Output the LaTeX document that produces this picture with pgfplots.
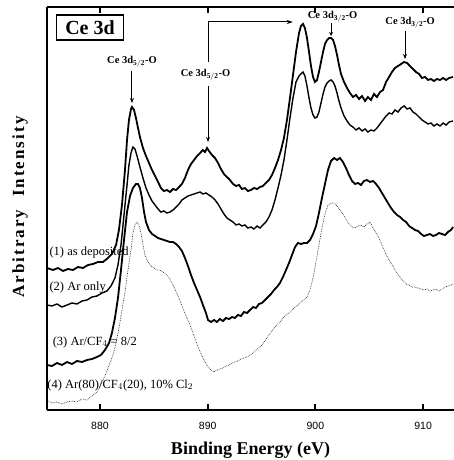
\documentclass[border=0pt]{standalone}
\usepackage{pgfplots}
\pgfplotsset{compat=1.18}
\usetikzlibrary{arrows.meta}
\usepackage{fontspec}
\setmainfont{Liberation Serif}
\newfontfamily\arialf{Liberation Sans}
\newfontfamily\spacedserif[LetterSpace=12]{Liberation Serif}

\begin{document}
\begin{tikzpicture}
\useasboundingbox (-47pt,-50pt) rectangle (407pt,410pt);
\begin{axis}[
  at={(0,0)}, anchor=south west,
  scale only axis, width=407pt, height=403pt,
  xmin=875.08, xmax=912.87, ymin=50, ymax=453,
  axis line style={line width=0.8pt},
  ytick=\empty,
  xtick={880,890,900,910}, xticklabels={880,890,900,910},
  tick align=inside, major tick length=6pt,
  xtick style={line width=2.2pt, black},
  xticklabel style={font=\arialf\fontsize{10.5}{12}\selectfont, yshift=-9pt},
  xlabel={\bfseries Binding Energy (eV)},
  xlabel style={font=\fontsize{18}{21}\selectfont, yshift=-5pt},
  clip=false,
]
% (1) as deposited
\addplot[black, line width=1.8pt] coordinates {
(875.08,192)(875.64,190)(876.10,192)(876.57,189)(877.03,191)(877.49,190)(877.96,193)(878.42,192)(878.89,195)(879.35,196)(879.81,198)(880.28,198)(880.74,202)(881.11,206)(881.49,215)(881.76,230)(882.04,255)(882.32,290)(882.51,320)(882.69,340)(882.88,351)(882.97,353)(883.16,350)(883.34,342)(883.53,332)(883.71,323)(883.99,312)(884.27,304)(884.55,297)(884.83,290)(885.11,284)(885.39,278)(885.66,272)(885.94,269)(886.22,270)(886.50,268)(886.78,271)(887.06,270)(887.34,273)(887.61,276)(887.89,282)(888.17,290)(888.45,296)(888.73,300)(889.01,304)(889.29,307)(889.56,310)(889.75,308)(889.94,312)(890.12,309)(890.40,305)(890.68,302)(890.96,297)(891.23,291)(891.51,286)(891.79,283)(892.07,280)(892.35,276)(892.63,274)(892.91,275)(893.18,271)(893.46,272)(893.74,269)(894.02,270)(894.30,272)(894.58,271)(894.86,273)(895.13,274)(895.41,277)(895.69,280)(895.97,285)(896.25,292)(896.53,300)(896.81,310)(897.08,322)(897.36,340)(897.64,362)(897.92,385)(898.20,408)(898.48,427)(898.66,434)(898.85,436)(899.03,432)(899.22,422)(899.41,408)(899.59,394)(899.78,383)(899.96,378)(900.15,380)(900.33,388)(900.52,398)(900.71,408)(900.89,416)(901.08,420)(901.27,422)(901.45,422)(901.64,420)(901.82,414)(902.01,405)(902.19,395)(902.38,386)(902.66,378)(902.94,372)(903.21,367)(903.49,363)(903.77,365)(904.05,361)(904.33,364)(904.61,359)(904.88,363)(905.16,360)(905.44,366)(905.72,363)(906.00,368)(906.28,370)(906.56,378)(906.84,383)(907.11,388)(907.39,392)(907.67,394)(907.95,396)(908.23,398)(908.51,397)(908.78,394)(909.06,391)(909.34,388)(909.62,386)(909.90,382)(910.18,383)(910.46,380)(910.73,381)(911.01,379)(911.29,381)(911.57,380)(911.85,382)(912.13,380)(912.41,382)(912.78,383)
};
% (2) Ar only
\addplot[black, line width=1.4pt] coordinates {
(875.08,155)(875.54,154)(876.01,156)(876.47,153)(876.94,155)(877.40,157)(877.86,156)(878.33,159)(878.79,160)(879.26,163)(879.72,164)(880.19,167)(880.65,169)(881.02,174)(881.39,182)(881.67,195)(881.95,215)(882.23,245)(882.51,275)(882.69,295)(882.88,307)(883.06,313)(883.25,311)(883.44,304)(883.71,293)(883.99,282)(884.27,272)(884.55,265)(884.83,259)(885.11,255)(885.39,251)(885.66,248)(885.94,249)(886.22,247)(886.50,248)(886.78,250)(887.06,253)(887.34,256)(887.61,260)(887.89,262)(888.17,264)(888.45,265)(888.73,266)(889.01,267)(889.29,268)(889.56,266)(889.84,267)(890.12,265)(890.40,263)(890.68,260)(890.96,256)(891.23,251)(891.51,246)(891.79,242)(892.07,240)(892.35,238)(892.63,235)(892.91,236)(893.18,234)(893.46,235)(893.74,232)(894.02,233)(894.30,231)(894.58,234)(894.86,232)(895.13,235)(895.41,238)(895.69,243)(895.97,250)(896.25,260)(896.53,272)(896.81,285)(897.08,300)(897.36,320)(897.64,342)(897.92,362)(898.20,378)(898.48,384)(898.66,386)(898.85,388)(899.03,384)(899.22,374)(899.41,362)(899.59,352)(899.78,345)(899.96,342)(900.15,343)(900.33,348)(900.52,357)(900.71,366)(900.89,373)(901.08,377)(901.27,379)(901.45,380)(901.64,378)(901.82,374)(902.01,367)(902.19,359)(902.38,352)(902.66,344)(902.94,339)(903.21,335)(903.49,333)(903.77,330)(904.05,332)(904.33,329)(904.61,331)(904.88,328)(905.16,330)(905.44,329)(905.72,332)(906.00,336)(906.28,340)(906.56,344)(906.84,347)(907.11,346)(907.39,350)(907.67,348)(907.95,352)(908.23,354)(908.51,351)(908.78,352)(909.06,348)(909.34,346)(909.62,343)(909.90,340)(910.18,338)(910.46,336)(910.73,337)(911.01,334)(911.29,336)(911.57,334)(911.85,337)(912.13,335)(912.41,338)(912.78,339)
};
% (3) Ar/CF4 = 8/2
\addplot[black, line width=1.8pt] coordinates {
(875.08,95)(875.54,94)(876.01,97)(876.47,95)(876.94,98)(877.40,96)(877.86,99)(878.33,98)(878.79,100)(879.26,101)(879.72,103)(880.09,105)(880.46,110)(880.84,117)(881.11,127)(881.39,142)(881.67,162)(881.95,190)(882.23,220)(882.51,248)(882.79,264)(883.06,272)(883.34,276)(883.53,276)(883.71,272)(883.90,262)(884.09,248)(884.27,238)(884.55,230)(884.83,226)(885.11,224)(885.39,222)(885.66,221)(885.94,220)(886.22,219)(886.50,218)(886.78,218)(887.06,216)(887.34,213)(887.61,209)(887.89,202)(888.17,194)(888.45,185)(888.73,177)(889.01,170)(889.29,163)(889.56,155)(889.84,147)(890.03,140)(890.31,138)(890.59,140)(890.86,138)(891.14,141)(891.42,139)(891.70,142)(891.98,141)(892.26,143)(892.53,142)(892.81,145)(893.09,144)(893.37,148)(893.65,147)(893.93,150)(894.21,153)(894.48,152)(894.76,156)(895.04,157)(895.32,160)(895.60,163)(895.88,166)(896.16,170)(896.43,173)(896.71,177)(896.99,183)(897.27,190)(897.55,197)(897.83,205)(898.11,213)(898.38,217)(898.66,216)(898.94,217)(899.22,217)(899.50,220)(899.78,226)(900.06,234)(900.33,247)(900.61,262)(900.89,276)(901.17,290)(901.45,299)(901.73,302)(902.01,300)(902.28,302)(902.56,298)(902.84,292)(903.12,285)(903.40,279)(903.68,276)(903.96,277)(904.23,275)(904.51,279)(904.79,280)(905.07,278)(905.35,279)(905.63,276)(905.91,272)(906.18,267)(906.46,262)(906.74,257)(907.02,252)(907.30,248)(907.58,245)(907.86,243)(908.14,240)(908.42,238)(908.70,234)(908.97,232)(909.25,230)(909.53,229)(909.81,226)(910.08,224)(910.36,225)(910.64,226)(910.92,224)(911.20,225)(911.48,227)(911.76,226)(912.04,225)(912.31,228)(912.59,230)(912.78,233)
};
% (4) Ar(80)/CF4(20), 10% Cl2
\addplot[black!80, line width=0.7pt, densely dotted] coordinates {
(875.08,60)(875.54,57)(876.01,58)(876.47,56)(876.94,58)(877.40,59)(877.86,58)(878.33,61)(878.79,60)(879.26,64)(879.63,67)(880.00,73)(880.37,82)(880.65,89)(880.93,97)(881.21,105)(881.49,117)(881.76,132)(882.04,150)(882.32,168)(882.60,190)(882.88,210)(883.06,227)(883.25,235)(883.44,238)(883.62,235)(883.81,227)(883.99,215)(884.18,205)(884.46,198)(884.74,194)(885.01,192)(885.29,190)(885.57,190)(885.85,188)(886.13,186)(886.41,182)(886.69,177)(886.96,171)(887.24,164)(887.52,157)(887.80,149)(888.08,142)(888.36,135)(888.64,127)(888.91,119)(889.19,111)(889.47,104)(889.75,98)(890.03,93)(890.31,90)(890.59,88)(890.86,90)(891.14,91)(891.42,92)(891.70,94)(891.98,95)(892.26,97)(892.53,98)(892.81,99)(893.09,101)(893.37,102)(893.65,103)(893.93,105)(894.21,107)(894.48,110)(894.76,112)(895.04,115)(895.32,119)(895.60,124)(895.88,128)(896.16,132)(896.43,135)(896.71,138)(896.99,142)(897.27,145)(897.55,147)(897.83,150)(898.11,153)(898.38,155)(898.66,158)(898.94,160)(899.22,163)(899.50,170)(899.78,182)(900.06,198)(900.33,215)(900.61,232)(900.89,246)(901.17,255)(901.45,257)(901.73,257)(902.01,254)(902.28,250)(902.56,246)(902.84,241)(903.12,236)(903.40,233)(903.68,232)(903.96,234)(904.23,235)(904.51,233)(904.79,236)(905.07,238)(905.35,232)(905.63,227)(905.91,222)(906.18,215)(906.46,208)(906.74,202)(907.02,197)(907.30,192)(907.58,187)(907.86,183)(908.14,179)(908.42,176)(908.70,175)(908.97,173)(909.25,173)(909.53,172)(909.81,171)(910.08,170)(910.36,171)(910.64,169)(910.92,170)(911.20,171)(911.48,169)(911.76,171)(912.04,173)(912.31,174)(912.59,175)(912.78,176)
};
% frame emphasis
\draw[line width=2.4pt] (rel axis cs:0,0) -- (rel axis cs:0,1);
\draw[line width=2.4pt] (rel axis cs:0,0) -- (rel axis cs:1,0);
\draw[line width=2pt] (rel axis cs:0,1) -- (rel axis cs:1,1);
% y label
\node[rotate=90, font=\spacedserif\bfseries\fontsize{17}{20}\selectfont] at (axis cs:872.57,253) {Arbitrary\ \ Intensity};
% Ce 3d box
\node[draw, line width=1.3pt, inner xsep=8.5pt, inner ysep=5.5pt, font=\bfseries\fontsize{20}{23}\selectfont] at (axis cs:879.07,432.5) {Ce 3d};
% peak labels
\node[font=\bfseries\fontsize{10.5}{12}\selectfont] at (axis cs:882.97,398) {Ce 3d$_{\mathbf{5/2}}$-O};
\draw[-{Stealth[length=5pt,width=4pt]}, line width=1pt] (axis cs:882.97,389) -- (axis cs:882.97,357);
\node[font=\bfseries\fontsize{10.5}{12}\selectfont] at (axis cs:889.8,385) {Ce 3d$_{\mathbf{5/2}}$-O};
\draw[-{Stealth[length=5pt,width=4pt]}, line width=1pt] (axis cs:890.03,374) -- (axis cs:890.03,318);
\draw[-{Stealth[length=6pt,width=4pt]}, line width=1pt] (axis cs:890.03,398) -- (axis cs:890.03,438) -- (axis cs:897.9,438);
\node[font=\bfseries\fontsize{10.5}{12}\selectfont] at (axis cs:901.6,443.5) {Ce 3d$_{\mathbf{3/2}}$-O};
\draw[-{Stealth[length=4pt,width=4pt]}, line width=1pt] (axis cs:901.45,437) -- (axis cs:901.45,424);
\node[font=\bfseries\fontsize{10.5}{12}\selectfont] at (axis cs:908.8,437) {Ce 3d$_{\mathbf{3/2}}$-O};
\draw[-{Stealth[length=5pt,width=4pt]}, line width=1pt] (axis cs:908.32,429) -- (axis cs:908.32,401);
% curve labels
\node[anchor=west, inner sep=0pt, font=\fontsize{12.5}{14}\selectfont] at (axis cs:875.3,208) {(1) as deposited};
\node[anchor=west, inner sep=0pt, font=\fontsize{12.5}{14}\selectfont] at (axis cs:875.3,172) {(2) Ar only};
\node[anchor=west, inner sep=0pt, font=\fontsize{12.5}{14}\selectfont] at (axis cs:875.6,118) {(3) Ar/CF$_4$ = 8/2};
\node[anchor=west, inner sep=0pt, font=\fontsize{12.5}{14}\selectfont] at (axis cs:875.1,75) {(4) Ar(80)/CF$_4$(20), 10\% Cl$_2$};
\end{axis}
\end{tikzpicture}
\end{document}
